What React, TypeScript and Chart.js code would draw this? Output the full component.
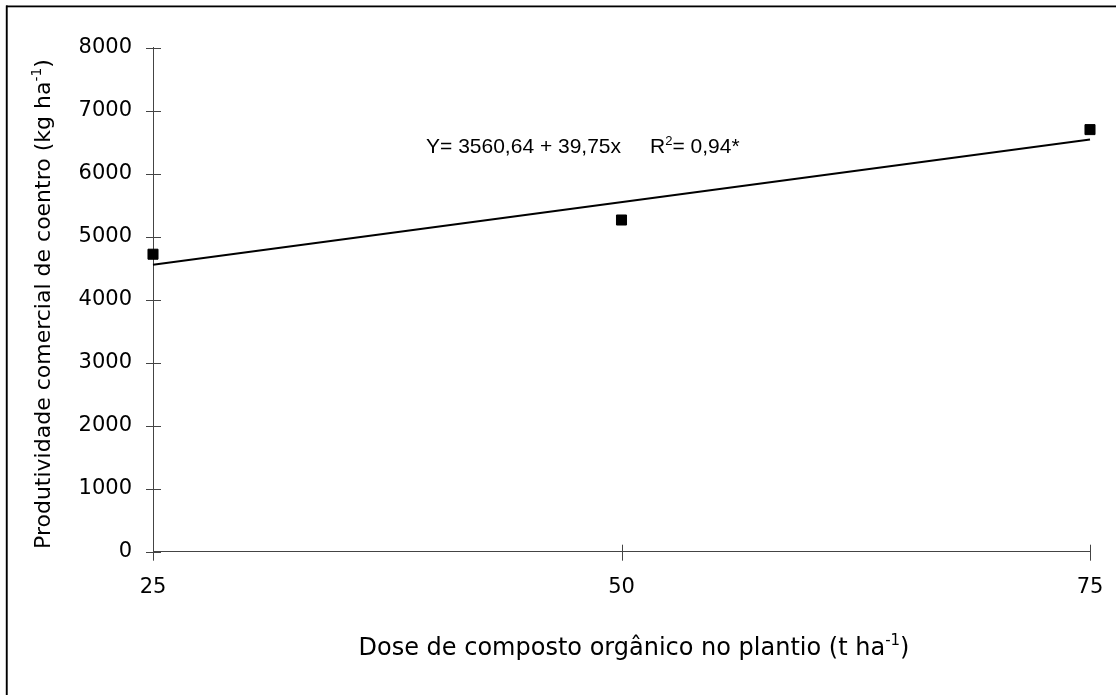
import React, { useEffect, useRef } from "react";
import { Chart, registerables } from "chart.js";

Chart.register(...registerables);

// ---- data ----
const doses = [25, 50, 75];
const yields = [4722, 5265, 6700];
const trendDoses = [25, 75];
const trendYields = [4554, 6542];
const xTickValues = [25, 50, 75];
const yTickValues = [0, 1000, 2000, 3000, 4000, 5000, 6000, 7000, 8000];

type Part = { t: string; sup?: boolean };
const yTitleParts: Part[] = [
  { t: "Produtividade comercial de coentro (kg ha" },
  { t: "-1", sup: true },
  { t: ")" },
];
const xTitleParts: Part[] = [
  { t: "Dose de composto orgânico no plantio (t ha" },
  { t: "-1", sup: true },
  { t: ")" },
];
const equationMain = "Y= 3560,64 + 39,75x";
const equationR: Part[] = [{ t: "R" }, { t: "2", sup: true }, { t: "= 0,94*" }];
const equationAnchor = { x: 39.57, y: 6324 };

const TICK_FONT = "DejaVu Sans";
const EQ_FONT = "Liberation Sans, Arial, sans-serif";

function drawRich(
  ctx: CanvasRenderingContext2D,
  parts: Part[],
  x: number,
  y: number,
  family: string,
  size: number,
  supSize: number,
  supRise: number,
  align: "left" | "center"
) {
  let total = 0;
  const widths: number[] = [];
  for (const p of parts) {
    ctx.font = `${p.sup ? supSize : size}px ${family}`;
    const w = ctx.measureText(p.t).width;
    widths.push(w);
    total += w;
  }
  let cx = align === "center" ? x - total / 2 : x;
  ctx.textAlign = "left";
  ctx.textBaseline = "alphabetic";
  parts.forEach((p, i) => {
    ctx.font = `${p.sup ? supSize : size}px ${family}`;
    ctx.fillText(p.t, cx, p.sup ? y - supRise : y);
    cx += widths[i];
  });
  return total;
}

const decorPlugin = {
  id: "decor",
  beforeDatasetsDraw(chart: any) {
    const ctx: CanvasRenderingContext2D = chart.ctx;
    const xs = chart.scales.x;
    const ys = chart.scales.y;
    const area = chart.chartArea;
    ctx.save();
    ctx.strokeStyle = "#444";
    ctx.lineWidth = 1;
    ctx.beginPath();
    for (const v of yTickValues) {
      const py = Math.round(ys.getPixelForValue(v)) + 0.5;
      ctx.moveTo(area.left - 7, py);
      ctx.lineTo(area.left + 8, py);
    }
    for (const v of xTickValues) {
      const px = Math.round(xs.getPixelForValue(v)) + 0.5;
      ctx.moveTo(px, area.bottom - 7);
      ctx.lineTo(px, area.bottom + 9);
    }
    ctx.stroke();
    ctx.restore();
  },
  afterDraw(chart: any) {
    const ctx: CanvasRenderingContext2D = chart.ctx;
    const xs = chart.scales.x;
    const ys = chart.scales.y;
    ctx.save();
    ctx.fillStyle = "#000";

    // outer frame (top and left edges visible)
    ctx.fillRect(6, 5.5, chart.width, 1.8);
    ctx.fillRect(5.8, 5.5, 1.9, chart.height);

    // equation
    const ex = xs.getPixelForValue(equationAnchor.x);
    const ey = ys.getPixelForValue(equationAnchor.y);
    ctx.font = `21px ${EQ_FONT}`;
    ctx.textAlign = "left";
    ctx.textBaseline = "alphabetic";
    ctx.fillText(equationMain, ex, ey);
    const w1 = ctx.measureText(equationMain).width;
    drawRich(ctx, equationR, ex + w1 + 29, ey, EQ_FONT, 21, 13, 8, "left");

    // x title
    drawRich(ctx, xTitleParts, 634, 655, TICK_FONT, 24, 15, 10, "center");

    // y title (rotated)
    ctx.translate(50, 304);
    ctx.rotate(-Math.PI / 2);
    drawRich(ctx, yTitleParts, 0, 0, TICK_FONT, 22, 14, 9, "center");
    ctx.restore();
  },
};

export default function App() {
  const ref = useRef<HTMLCanvasElement | null>(null);

  useEffect(() => {
    if (!ref.current) return;
    const chart = new Chart(ref.current, {
      type: "scatter",
      data: {
        datasets: [
          {
            type: "line",
            data: trendDoses.map((x, i) => ({ x, y: trendYields[i] })),
            borderColor: "#000",
            borderWidth: 2,
            pointRadius: 0,
            fill: false,
            clip: false,
            order: 2,
          } as any,
          {
            type: "scatter",
            data: doses.map((x, i) => ({ x, y: yields[i] })),
            pointStyle: "rect",
            pointRadius: 7.1,
            backgroundColor: "#000",
            borderColor: "#000",
            borderWidth: 1,
            clip: false,
            order: 1,
          } as any,
        ],
      },
      options: {
        responsive: false,
        maintainAspectRatio: false,
        animation: false,
        events: [],
        layout: { padding: { top: 47.7, right: 26, bottom: 0, left: 0 } },
        plugins: {
          legend: { display: false },
          tooltip: { enabled: false },
          title: { display: false },
        },
        scales: {
          x: {
            type: "linear",
            min: 25,
            max: 75,
            afterBuildTicks: (axis: any) => {
              axis.ticks = xTickValues.map((v) => ({ value: v }));
            },
            afterFit: (s: any) => {
              s.height = 695 - 551.7;
              s.paddingLeft = 0;
              s.paddingRight = 0;
            },
            grid: { display: true, drawOnChartArea: false, drawTicks: false },
            border: { display: true, color: "#444", width: 1 },
            ticks: {
              font: { family: TICK_FONT, size: 21 },
              color: "#000",
              padding: 23,
              maxRotation: 0,
              autoSkip: false,
            },
          },
          y: {
            type: "linear",
            min: 0,
            max: 8000,
            afterBuildTicks: (axis: any) => {
              axis.ticks = yTickValues.map((v) => ({ value: v }));
            },
            afterFit: (s: any) => {
              s.width = 153;
              s.paddingTop = 0;
              s.paddingBottom = 0;
            },
            grid: { display: true, drawOnChartArea: false, drawTicks: false },
            border: { display: true, color: "#444", width: 1 },
            ticks: {
              font: { family: TICK_FONT, size: 21 },
              color: "#000",
              padding: 21,
              autoSkip: false,
              callback: (v: any) => String(v),
            },
          },
        },
      },
      plugins: [decorPlugin],
    } as any);
    return () => chart.destroy();
  }, []);

  return (
    <div style={{ position: "fixed", left: 0, top: 0, width: 1116, height: 695, background: "#fff" }}>
      <canvas ref={ref} width={1116} height={695} style={{ display: "block", width: 1116, height: 695 }} />
    </div>
  );
}
